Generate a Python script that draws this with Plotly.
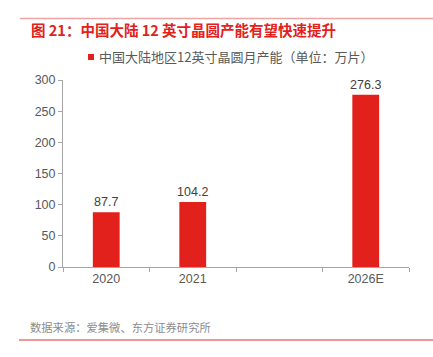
import plotly.graph_objects as go

categories = ["2020", "2021", " ", "2026E"]
values = [87.7, 104.2, None, 276.3]
labels = ["87.7", "104.2", "", "276.3"]
series_name = "中国大陆地区12英寸晶圆月产能（单位：万片）"
y_ticks = [0, 50, 100, 150, 200, 250, 300]

FONT = "Noto Sans CJK SC, Liberation Sans, sans-serif"
NUMFONT = "Liberation Sans, Arial, sans-serif"
RED = "#E2211C"
GRAY = "#595959"

fig = go.Figure()
fig.add_trace(go.Bar(
    x=categories, y=values, name=series_name,
    marker=dict(color=RED, line=dict(width=0)),
    width=0.31,
    text=labels, textposition="outside", constraintext="none",
    textfont=dict(size=12.5, color="#404040", family=NUMFONT),
    cliponaxis=False, showlegend=False, hoverinfo="skip",
))

W, H = 433, 357
L, R, T, B = 63, 24, 80, 90
pw, ph = W - L - R, H - T - B

def px(x):
    return (x - L) / pw

def py(y):
    return (H - B - y) / ph

fig.update_layout(
    width=W, height=H,
    margin=dict(l=L, r=R, t=T, b=B, autoexpand=False),
    paper_bgcolor="white", plot_bgcolor="white",
    showlegend=False,
    xaxis=dict(type="category", tickmode="array", tickvals=categories,
               showline=True, linecolor="#A6A6A6", linewidth=1,
               ticks="outside", ticklen=4, tickcolor="#A6A6A6",
               tickson="boundaries", showgrid=False,
               tickfont=dict(size=12.5, color=GRAY, family=NUMFONT),
               range=[-0.5, 3.5], fixedrange=True, automargin=False),
    yaxis=dict(range=[0, 300], tickvals=y_ticks, showgrid=False,
               showline=True, linecolor="#A6A6A6", linewidth=1,
               ticks="outside", ticklen=4, tickcolor="#A6A6A6",
               tickfont=dict(size=12.5, color=GRAY, family=NUMFONT),
               zeroline=False, automargin=False, fixedrange=True),
    shapes=[
        dict(type="line", xref="paper", yref="paper", x0=px(20), x1=px(433),
             y0=py(18.5), y1=py(18.5), line=dict(color="#F0A3A3", width=1.5)),
        dict(type="line", xref="paper", yref="paper", x0=px(19), x1=px(433),
             y0=py(340), y1=py(340), line=dict(color="#E8302A", width=1.2)),
        dict(type="rect", xref="paper", yref="paper", x0=px(88), x1=px(94),
             y0=py(60), y1=py(54), fillcolor=RED, line=dict(width=0)),
    ],
    annotations=[
        dict(text="<b>图 21：中国大陆 12 英寸晶圆产能有望快速提升</b>", xref="paper", yref="paper",
             x=px(29), y=py(29), xanchor="left", yanchor="middle", showarrow=False,
             font=dict(size=14.5, color="#E2211C", family=FONT)),
        dict(text=series_name, xref="paper", yref="paper",
             x=px(97), y=py(57), xanchor="left", yanchor="middle", showarrow=False,
             font=dict(size=13, color=GRAY, family=FONT)),
        dict(text="数据来源：爱集微、东方证券研究所", xref="paper", yref="paper",
             x=px(28), y=py(327), xanchor="left", yanchor="middle", showarrow=False,
             font=dict(size=11.3, color="#8C8C8C", family=FONT)),
    ],
)

fig.write_html("out.html", config={"displayModeBar": False, "staticPlot": True},
               post_script="document.body.style.margin='0';document.body.style.overflow='hidden';")
